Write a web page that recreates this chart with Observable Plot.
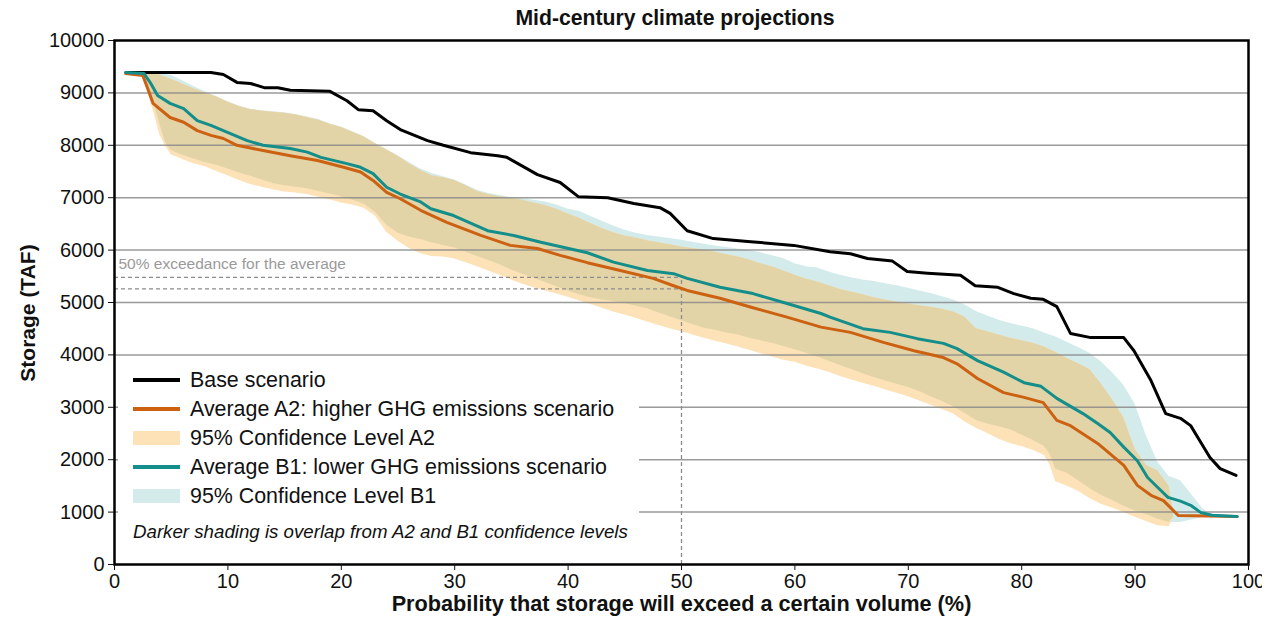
<!DOCTYPE html>
<html><head><meta charset="utf-8">
<script src="https://cdn.jsdelivr.net/npm/d3@7"></script>
<script src="https://cdn.jsdelivr.net/npm/@observablehq/plot@0.6"></script>
<style>
body{margin:0;background:#fff;font-family:"Liberation Sans",Arial,sans-serif;color:#111;}
#wrap{position:relative;width:1277px;height:628px;overflow:hidden;}
#title{position:absolute;left:108px;width:1134px;top:0;height:36px;line-height:36px;text-align:center;font-weight:bold;font-size:21.2px;}
#chart{position:absolute;left:0;top:30px;}
#ylab{position:absolute;left:28px;top:313px;width:0;height:0;}
#ylab span{position:absolute;left:0;top:0;transform:translate(-50%,-50%) rotate(-90deg);white-space:nowrap;font-weight:bold;font-size:21px;}
#legend{position:absolute;left:118px;top:362px;width:521px;height:194px;background:#fff;}
#edge{position:absolute;left:1262px;top:0;width:15px;height:628px;background:#fff;}
.row{position:absolute;left:0;height:26px;line-height:26px;font-size:21.4px;white-space:nowrap;}
.sw{position:absolute;left:15px;width:47px;}
.lab{position:absolute;left:72px;top:0;}
.note{position:absolute;left:15px;font-style:italic;font-size:18.7px;white-space:nowrap;line-height:24px;}
</style>
</head><body>
<div id="wrap">
  <div id="title"></div>
  <div id="chart"></div>
  <div id="ylab"><span></span></div>
  <div id="legend"></div>
  <div id="edge"></div>
</div>
<script>
// ---------- data ----------
const titleText = "Mid-century climate projections";
const yLabel = "Storage (TAF)";
const xLabel = "Probability that storage will exceed a certain volume (%)";
const xTicks = [0,10,20,30,40,50,60,70,80,90,100];
const yTicks = [0,1000,2000,3000,4000,5000,6000,7000,8000,9000,10000];
const gridValues = [1000,2000,3000,4000,5000,6000,7000,8000,9000];

const baseX = [1,8.5,9.6,10.8,12,13.2,14.4,15.5,19,20.5,21.5,22.8,24,25.2,27.6,29,31.4,33.8,34.6,37.3,39.3,40.9,43.5,45.8,48.1,49,50.5,52.8,56.1,59.9,63.1,64.9,66.4,68.6,69.9,71.7,74.6,75.9,77.9,79.3,80.8,81.9,83.1,84.3,86.1,89,89.9,91.4,92.7,94,94.9,95.8,96.6,97.5,98.9];
const baseY = [9390,9390,9350,9200,9180,9100,9100,9050,9030,8850,8680,8660,8470,8300,8090,8000,7860,7800,7770,7440,7290,7020,7000,6890,6810,6700,6370,6220,6160,6090,5970,5930,5840,5790,5590,5560,5520,5320,5290,5170,5080,5060,4920,4410,4330,4330,4080,3510,2880,2790,2650,2330,2040,1830,1700];

const a2X = [1,2.5,2.9,3.4,4.9,6.1,7.3,8.5,9.6,10.8,13.1,15.5,17.9,20.2,21.7,22.8,24,25.2,27,29.3,32.3,34.9,37.3,39.3,41.7,44.6,47.5,49.3,50.5,53.4,56.3,59.3,62.3,64.9,67.8,70.5,73.1,74.3,76.1,78.4,80.2,81.9,83.1,84.3,86.7,89,90.2,91.4,92.5,93.1,93.8,99];
const a2Y = [9370,9330,9100,8800,8530,8440,8280,8190,8130,8000,7900,7800,7710,7580,7490,7330,7100,6980,6760,6530,6280,6090,6030,5900,5760,5610,5460,5320,5230,5080,4900,4720,4530,4430,4240,4080,3950,3830,3550,3280,3190,3090,2750,2650,2310,1890,1510,1320,1220,1090,935,915];

const b1X = [1,2.6,3.2,3.8,4.9,6.1,7.3,8.5,9.6,11.7,13.1,15.5,17,18.2,20.5,21.7,22.8,24,25.2,27,27.9,29.9,32.9,35.2,37.6,41.7,44,47,49.3,50.5,53.4,56.3,59.3,62.3,63.1,66,68.4,70.8,73.1,74.3,76.1,78.4,80.2,81.7,83.1,85.4,86.7,87.8,89,90.2,91.1,92,92.9,94,94.9,95.8,96.8,99];
const b1Y = [9390,9370,9180,8950,8800,8700,8470,8380,8280,8090,8000,7940,7870,7770,7650,7580,7460,7200,7070,6920,6790,6660,6370,6280,6150,5950,5770,5610,5550,5460,5290,5170,4980,4790,4720,4500,4430,4310,4220,4120,3890,3670,3470,3400,3170,2880,2690,2520,2240,1980,1660,1470,1280,1210,1130,990,940,915];

const bandX   = [2.5,3,3.5,4,4.5,5,6,7,8,9,10,11,12,13,14,15,16,17,18,19,20,21,22,23,24,25,26,27,28,29,30,31,32,33,34,35,36,37,38,39,40,41,42,43,44,45,46,47,48,49,50,51,52,53,54,55,56,57,58,59,60,61,62,63,64,65,66,67,68,69,70,71,72,73,74,75,76,77,78,79,80,81,82,82.5,83,84,85,86,87,88,89,90,91,92,93,93.4,94,95,96,96.7];
const a2Upper = [9370,9365,9355,9340,9300,9260,9170,9080,9000,8920,8820,8740,8680,8650,8630,8610,8580,8530,8480,8400,8340,8250,8160,8030,7910,7790,7650,7520,7420,7380,7330,7230,7120,7060,7020,6990,6950,6900,6850,6780,6690,6610,6510,6410,6330,6270,6230,6180,6140,6100,6060,6030,6000,5960,5910,5870,5810,5740,5680,5600,5520,5450,5390,5320,5250,5200,5150,5090,5050,5010,4970,4940,4910,4870,4820,4720,4500,4440,4380,4320,4270,4220,4150,4100,4050,3930,3830,3720,3450,3150,2800,2200,1890,1790,1500,970,null,null,null,null];
const a2Lower = [9360,9000,8600,8200,7980,7820,7730,7650,7590,7500,7420,7330,7250,7200,7150,7110,7090,7060,7010,6960,6900,6860,6800,6650,6340,6170,6030,5930,5880,5870,5830,5760,5680,5600,5520,5430,5350,5280,5220,5160,5100,5030,4960,4890,4820,4760,4700,4630,4560,4500,4440,4380,4320,4260,4210,4150,4090,4020,3960,3900,3860,3790,3730,3670,3590,3520,3460,3400,3330,3270,3200,3120,3040,2960,2870,2720,2600,2500,2390,2310,2250,2180,2080,1900,1580,1500,1400,1260,1150,1080,990,900,820,740,720,900,null,null,null,null];
const b1Upper = [9375,9375,9372,9370,9350,9330,9230,9120,9020,8930,8830,8750,8690,8660,8640,8620,8590,8540,8490,8410,8350,8260,8170,8040,7920,7800,7670,7550,7460,7400,7340,7240,7140,7080,7040,7000,6980,6950,6920,6860,6780,6740,6640,6550,6460,6380,6320,6280,6250,6220,6190,6150,6110,6080,6050,6020,5990,5950,5890,5840,5740,5680,5660,5580,5520,5470,5430,5400,5360,5320,5270,5220,5170,5110,5050,4950,4830,4740,4660,4600,4550,4500,4420,4380,4340,4240,4140,4030,3870,3660,3420,3060,2450,1950,1680,1650,1600,1330,1060,950];
const b1Lower = [9365,9100,8790,8400,8050,7900,7810,7740,7670,7620,7550,7470,7410,7340,7270,7230,7200,7170,7120,7070,7020,6950,6880,6720,6480,6320,6250,6200,6140,6090,6040,5960,5880,5800,5720,5620,5540,5460,5380,5300,5220,5150,5090,5050,5020,4980,4930,4880,4800,4730,4650,4580,4510,4470,4420,4380,4320,4270,4220,4160,4100,4030,3960,3880,3800,3720,3640,3570,3500,3440,3380,3300,3200,3110,3010,2880,2750,2680,2630,2570,2470,2370,2250,2100,1820,1740,1600,1450,1320,1220,1110,1020,950,870,800,800,800,850,900,940];

const exceedancePct = 50;
const exceedanceValues = [5480, 5260];
const exceedanceText = "50% exceedance for the average";

const legendItems = [
  {label:"Base scenario", kind:"line", color:"#000000"},
  {label:"Average A2: higher GHG emissions scenario", kind:"line", color:"#cc6112"},
  {label:"95% Confidence Level A2", kind:"box", color:"#fde1b7"},
  {label:"Average B1: lower GHG emissions scenario", kind:"line", color:"#148e8a"},
  {label:"95% Confidence Level B1", kind:"box", color:"#d4ebec"}
];
const noteText = "Darker shading is overlap from A2 and B1 confidence levels";

// ---------- tables ----------
const base = baseX.map((x,i)=>({x, y:baseY[i]}));
const a2 = a2X.map((x,i)=>({x, y:a2Y[i]}));
const b1 = b1X.map((x,i)=>({x, y:b1Y[i]}));
const bands = bandX.map((x,i)=>{
  const au=a2Upper[i], al=a2Lower[i], bu=b1Upper[i], bl=b1Lower[i];
  let ol=null, oh=null;
  if (au!=null && al!=null) { ol=Math.max(al,bl); oh=Math.min(au,bu); if (oh<ol) oh=ol; }
  return {x, au, al, bu, bl, ol, oh};
});

const COL = {orange:"#cc6112", teal:"#148e8a", a2band:"#fde1b7", b1band:"#d4ebec", overlap:"#e3d4a8", grid:"#8a8a8a", dash:"#8c8c8c"};

const chart = Plot.plot({
  width:1277, height:598,
  marginTop:10, marginBottom:64, marginLeft:114, marginRight:29,
  x:{domain:[0,100]},
  y:{domain:[0,10000]},
  style:{fontFamily:'"Liberation Sans", Arial, sans-serif', background:"white", color:"#111", overflow:"visible"},
  marks:[
    Plot.areaY(bands, {x:"x", y1:"bl", y2:"bu", fill:COL.b1band}),
    Plot.areaY(bands, {x:"x", y1:"al", y2:"au", fill:COL.a2band}),
    Plot.areaY(bands, {x:"x", y1:"ol", y2:"oh", fill:COL.overlap}),
    Plot.ruleY(gridValues, {stroke:COL.grid, strokeOpacity:0.85, strokeWidth:1.5}),
    Plot.ruleY(exceedanceValues, {y:d=>d, x1:()=>0, x2:()=>exceedancePct, stroke:COL.dash, strokeDasharray:"4,3", strokeWidth:1.3}),
    Plot.ruleX([exceedancePct], {x:d=>d, y1:()=>0, y2:()=>d3.max(exceedanceValues), stroke:COL.dash, strokeDasharray:"4,3", strokeWidth:1.3}),
    Plot.text([exceedanceText], {x:()=>0, y:()=>5740, text:d=>d, dx:4, textAnchor:"start", fill:"#9a9a9a", fontSize:15.5}),
    Plot.line(base, {x:"x", y:"y", stroke:"#000", strokeWidth:3, strokeLinejoin:"round"}),
    Plot.line(a2, {x:"x", y:"y", stroke:COL.orange, strokeWidth:3, strokeLinejoin:"round"}),
    Plot.line(b1, {x:"x", y:"y", stroke:COL.teal, strokeWidth:3, strokeLinejoin:"round"}),
    Plot.frame({stroke:"#000", strokeWidth:2.5}),
    Plot.axisY(yTicks, {tickFormat:d=>String(d), fontSize:20, tickSize:6, tickPadding:4, label:null}),
    Plot.axisX(xTicks, {tickFormat:d=>String(d), fontSize:20, tickSize:6, tickPadding:3, label:null}),
    Plot.text([xLabel], {frameAnchor:"bottom", dy:46, text:d=>d, fontSize:21.7, fontWeight:"bold", fill:"#111"})
  ]
});
document.getElementById("chart").appendChild(chart);
document.getElementById("title").textContent = titleText;
document.querySelector("#ylab span").textContent = yLabel;

// legend
const leg = document.getElementById("legend");
const rowCenters = [18,47,76,105,134];
legendItems.forEach((it,i)=>{
  const row = document.createElement("div");
  row.className="row";
  row.style.top = (rowCenters[i]-13)+"px";
  row.style.width="520px";
  const sw = document.createElement("div");
  sw.className="sw";
  sw.style.background = it.color;
  if (it.kind==="line"){ sw.style.height="4px"; sw.style.top="11px"; }
  else { sw.style.height="14px"; sw.style.top="6px"; }
  const lab = document.createElement("div");
  lab.className="lab"; lab.textContent = it.label;
  row.appendChild(sw); row.appendChild(lab);
  leg.appendChild(row);
});
const note = document.createElement("div");
note.className="note"; note.style.top=(170-12)+"px"; note.textContent = noteText;
leg.appendChild(note);
</script>
</body></html>
